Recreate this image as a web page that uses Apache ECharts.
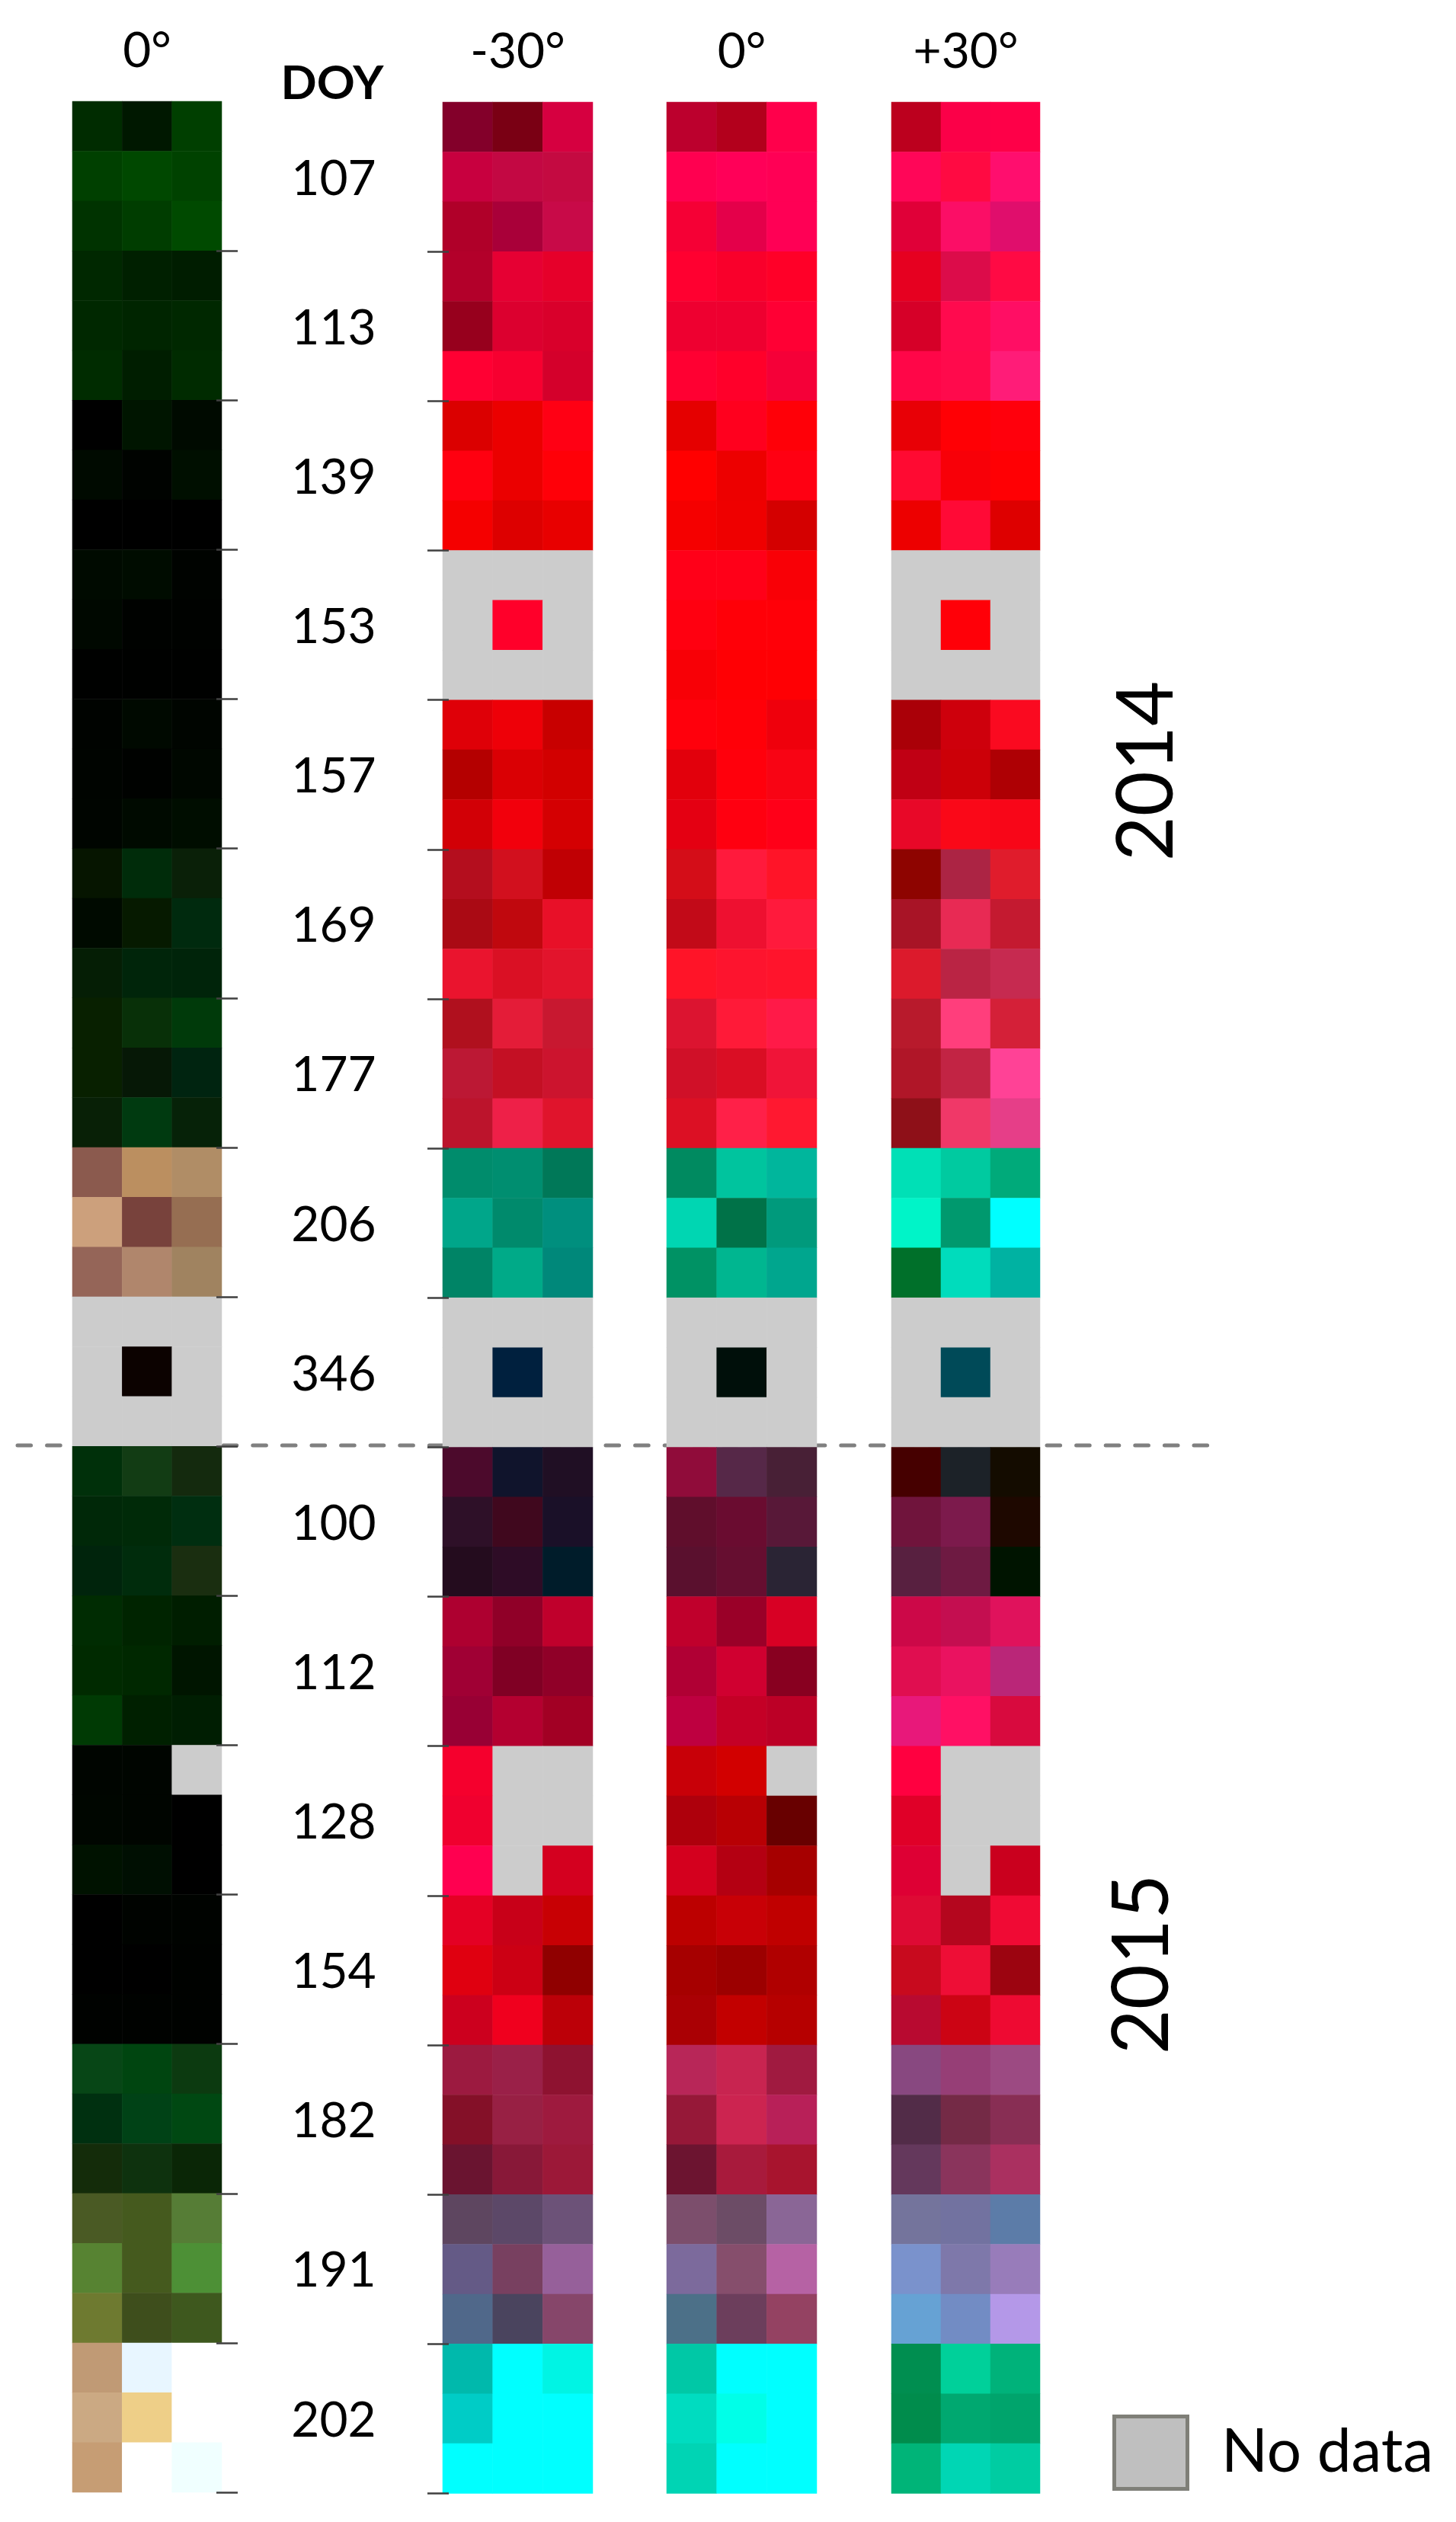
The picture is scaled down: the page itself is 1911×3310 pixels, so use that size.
<!DOCTYPE html>
<html><head><meta charset="utf-8">
<style>html,body{margin:0;padding:0;background:#fff}#c{width:1911px;height:3310px}</style>
<script src="https://cdn.jsdelivr.net/npm/echarts@6/dist/echarts.min.js"></script>
</head><body><div id="c"></div>
<script>
const NO = '#cccccc';
const doyLabels = ['107','113','139','153','157','169','177','206','346','100','112','128','154','182','191','202'];
const panelTitles = ['0°','-30°','0°','+30°'];
const yearLabels = ['2014','2015'];
const legendLabel = 'No data';

const greenPanel = [
 ['#002c00','#001800','#003f00'],['#004000','#004800','#004200'],['#003300','#003d00','#004a00'],
 ['#002800','#002000','#001d00'],['#002800','#002500','#002800'],['#002c00','#001e00','#002b00'],
 ['#000000','#001500','#000a00'],['#000a00','#000300','#000f00'],['#000000','#000000','#000000'],
 ['#000a00','#000c00','#000300'],['#000800','#000200','#000200'],['#000100','#000100','#000100'],
 ['#000300','#000900','#000500'],['#000400','#000200','#000700'],['#000500','#000a00','#000d00'],
 ['#061500','#002c0a','#0a2008'],['#000a00','#061a00','#002a0e'],['#051e05','#00250a','#00240a'],
 ['#082000','#083008','#003a0a'],['#082000','#061806','#002410'],['#082006','#003a10','#062208'],
 ['#8b5a4e','#bb8f60','#b08d66'],['#cca07c','#78423c','#966e52'],['#956558','#b0866c','#a08360'],
 [NO,NO,NO],[NO,'#0c0200',NO],[NO,NO,NO],
 ['#00300a','#123c14','#142a0e'],['#002808','#002a08','#002e10'],['#00240c','#002c0c','#1a2e10'],
 ['#002c02','#002400','#001e00'],['#002a00','#002800','#001500'],['#003a04','#002000','#001e02'],
 ['#000500','#000500',NO],['#000600','#000500','#000000'],['#001200','#000f02','#000000'],
 ['#000000','#000300','#000300'],['#000000','#000000','#000200'],['#000200','#000200','#000200'],
 ['#074616','#004510','#0c3a10'],['#003010','#004216','#004812'],['#142c0a','#0e320e','#0a2606'],
 ['#4a5a24','#455a1e','#567d36'],['#578332','#455a1e','#4d9036'],['#6e7a30','#3e4e1c','#3e581e'],
 ['#c09a75','#e8f6ff','#ffffff'],['#cba983','#eecf88','#ffffff'],['#c69d74','#ffffff','#f0ffff']
];
const minus30Panel = [
 ['#83002a','#7a0014','#d60040'],['#c8003f','#c30843','#c40a41'],['#b00029','#a90039','#c80a48'],
 ['#b3002a','#e60033','#e6002a'],['#97001d','#dc002f','#d9002b'],['#ff0033','#f70030','#d4002b'],
 ['#db0000','#eb0000','#ff0014'],['#ff0010','#eb0000','#ff0008'],['#f50000','#dd0000','#e80000'],
 [NO,NO,NO],[NO,'#ff002a',NO],[NO,NO,NO],
 ['#df0008','#ee0008','#c80000'],['#b40000','#da0004','#d20000'],['#d20006','#f2000c','#d40002'],
 ['#b40e1e','#d2101e','#c00004'],['#aa0a14','#c0080e','#e81028'],['#ea142e','#da1024','#e2142c'],
 ['#b0101e','#e41c38','#c81830'],['#bc1834','#c41024','#cc142e'],['#bc142c','#ee2048','#e0142c'],
 ['#008c6c','#008e70','#007858'],['#00a68a','#008a6c','#008f7e'],['#008466','#00aa88','#00887a'],
 [NO,NO,NO],[NO,'#00203e',NO],[NO,NO,NO],
 ['#4c0a2c','#10142c','#200f24'],['#2e1028','#40081e','#1a1028'],['#240c1e','#2e0c26','#001c2a'],
 ['#ae0030','#900028','#c0002c'],['#a00034','#800024','#900028'],['#980034','#b40030','#a20024'],
 ['#f5002d',NO,NO],['#f0002f',NO,NO],['#ff0050',NO,'#d4001f'],
 ['#e40024','#c80018','#c80004'],['#e00010','#cc0014','#900000'],['#cc001e','#f0001e','#bc0008'],
 ['#9c1a40','#9a2048','#8e1230'],['#841028','#982044','#9e1a3e'],['#6a1430','#881838','#9c1838'],
 ['#5e4660','#5c4868','#6c5278'],['#645a86','#784060','#96609a'],['#50688a','#4a445e','#86466a'],
 ['#00b9ac','#00ffff','#00f4e4'],['#00ccc6','#00ffff','#00ffff'],['#00ffff','#00ffff','#00ffff']
];
const zeroPanel = [
 ['#bc002d','#b3001c','#ff004b'],['#ff0050','#ff0058','#ff0055'],['#f50035','#e4004a','#ff0055'],
 ['#ff0030','#f9002b','#ff0028'],['#ee0030','#ee0030','#ff0034'],['#ff0032','#ff002a','#f50038'],
 ['#e50000','#ff001e','#ff0008'],['#ff0000','#ed0000','#ff0012'],['#f50000','#ef0000','#d40000'],
 ['#ff0018','#ff0018','#f90006'],['#ff0010','#ff0008','#ff0008'],['#f80006','#ff0004','#ff0004'],
 ['#ff000c','#ff0008','#ef000c'],['#e2000c','#ff000c','#f80414'],['#e40012','#ff0010','#ff0018'],
 ['#d40d18','#ff1a3c','#ff1428'],['#c20a18','#ee1030','#ff1a3c'],['#ff1428','#fd142e','#ff142c'],
 ['#dc1430','#ff1a38','#ff1a48'],['#d01028','#da0e24','#f01438'],['#dc1024','#ff2048','#ff1830'],
 ['#008a60','#00c49e','#00b69c'],['#00d6b2','#007248','#009a7c'],['#009264','#00b690','#00a68e'],
 [NO,NO,NO],[NO,'#000f0a',NO],[NO,NO,NO],
 ['#900c3a','#562848','#482036'],['#600e2c','#6a0c30','#581838'],['#5a102e','#660e30','#2a2434'],
 ['#c0002c','#9a0028','#d80024'],['#b00034','#d00030','#880020'],['#be0040','#c40026','#bc0026'],
 ['#c80008','#d20000',NO],['#ae000c','#b80004','#680000'],['#d4001e','#b40012','#a60000'],
 ['#bc0000','#c80006','#c00000'],['#a60000','#9c0000','#b00000'],['#aa0004','#c20000','#b60000'],
 ['#b82658','#c82450','#a01a40'],['#961838','#cc2450','#b82058'],['#6c1430','#a81a3c','#a8142e'],
 ['#7c4e6c','#6c4c66','#8a6696'],['#7c6a9c','#864e6c','#b662a4'],['#4c7088','#6c3e5c','#944262'],
 ['#00c8a6','#00ffff','#00ffff'],['#00dcc0','#00ffe8','#00ffff'],['#00d4b4','#00ffff','#00ffff']
];
const plus30Panel = [
 ['#bc001e','#fb0048','#fe0048'],['#ff0658','#ff0a42','#ff0e6e'],['#e00038','#fb0e66','#e00e6c'],
 ['#e60020','#dc0c4a','#ff0a44'],['#d60028','#ff0a4e','#ff0e64'],['#ff0648','#ff0a4c','#ff1c78'],
 ['#e80006','#ff0005','#ff000c'],['#ff0a32','#f80008','#ff0004'],['#ed0000','#ff0a36','#de0000'],
 [NO,NO,NO],[NO,'#ff0008',NO],[NO,NO,NO],
 ['#aa0008','#ce000c','#fa0a20'],['#c00014','#cc0008','#ae0004'],['#e80828','#fa0818','#f80618'],
 ['#8e0400','#ac2444','#e01c2c'],['#a81426','#e82a54','#c41a30'],['#dc1a2c','#ba2444','#c62a50'],
 ['#b81a2c','#ff3e7c','#d42038'],['#b01628','#c22444','#ff4296'],['#8e1018','#f03868','#e63e88'],
 ['#00e0b6','#00caa0','#00aa7a'],['#00f4c8','#00996e','#00ffff'],['#00702a','#00dcbc','#00b2a2'],
 [NO,NO,NO],[NO,'#004a58',NO],[NO,NO,NO],
 ['#460000','#1c2228','#140c00'],['#70143c','#7c1a4c','#1e0800'],['#582040','#6e1a42','#001400'],
 ['#cc0848','#c40e50','#e0125c'],['#e00e50','#ea1260','#ba2678'],['#e8187a','#ff1064','#d80a3e'],
 ['#ff0040',NO,NO],['#e00028',NO,NO],['#de0034',NO,'#ca001e'],
 ['#de0a34','#b4061e','#f00a34'],['#c80a1e','#ee0e36','#9c0410'],['#b80a30','#cc0414','#ee0a32'],
 ['#884880','#963e76','#9c4a82'],['#522c48','#742a46','#882e54'],['#64385c','#8a345c','#aa3060'],
 ['#74749c','#7272a0','#5c7ca8'],['#7a92cc','#7e78aa','#987cba'],['#66a2d4','#728cc4','#b498e8'],
 ['#008e50','#00d09a','#00b27a'],['#008c4c','#00a870','#00a46c'],['#00b478','#00d6b4','#00cca2']
];

const panels = [greenPanel, minus30Panel, zeroPanel, plus30Panel];
const FONT = 'Lato';
const gridBoxes = [
  {left:95, top:133, width:196, height:3138},
  {left:581, top:134, width:197, height:3138.5},
  {left:875, top:134, width:197, height:3138.5},
  {left:1170, top:134, width:195, height:3138.5}
];
const rowCats = doyLabels.flatMap(d => [d, d, d]);
const colCats = ['W','C','E'];

const yAxes = panels.map((_, i) => {
  const base = {gridIndex:i, type:'category', data:rowCats, inverse:true, z:6,
    axisLine:{show:false}, splitLine:{show:false}};
  const tick = {show:true, length:28, interval:(idx)=>idx>0 && idx%3===0, inside:false,
    lineStyle:{color:'#404040', width:2.5}};
  if (i===0) return Object.assign(base, {position:'right', offset:-7, axisTick:tick,
    axisLabel:{show:true, interval:(idx)=>idx%3===1, margin:154, align:'center',
      formatter:'{d|{value}}',
      rich:{d:{padding:[8,0,0,0], fontFamily:FONT, fontSize:64, color:'#000'}},
      fontFamily:FONT, fontSize:64, color:'#000', hideOverlap:false}});
  if (i===1) return Object.assign(base, {position:'left', offset:-8, axisTick:tick, axisLabel:{show:false}});
  return Object.assign(base, {show:false});
});
const xAxes = panels.map((_, i) => ({gridIndex:i, type:'category', data:colCats, position:'top',
  axisLine:{show:false}, axisTick:{show:false}, axisLabel:{show:false}, splitLine:{show:false},
  name:panelTitles[i], nameLocation:'middle', nameGap:66,
  nameTextStyle:{fontFamily:FONT, fontSize:64, color:'#000', verticalAlign:'middle'}}));
const series = panels.map((rows, i) => ({
  type:'heatmap', name:'panel'+i, xAxisIndex:i, yAxisIndex:i, z:2, animation:false,
  progressive:0, emphasis:{disabled:true},
  data: rows.flatMap((r, y) => r.map((color, x) => ({value:[x, y, 1], itemStyle:{color}})))
}));

const chart = echarts.init(document.getElementById('c'), null, {renderer:'canvas', width:1911, height:3310});
chart.setOption({
  animation:false, backgroundColor:'#ffffff', tooltip:{show:false},
  grid:gridBoxes, xAxis:xAxes, yAxis:yAxes, series,
  graphic:[
    {type:'line', z:0, silent:true, shape:{x1:23, y1:1897, x2:1595, y2:1897},
      style:{stroke:'#808080', lineWidth:5, lineCap:'round', lineDash:[17.6,21]}},
    {type:'text', z:10, x:436, y:110, style:{text:'DOY', fontFamily:FONT, fontWeight:'bold', fontSize:62, fill:'#000', align:'center', verticalAlign:'middle'}},
    {type:'text', z:10, x:1506, y:1012, rotation:Math.PI/2, style:{text:yearLabels[0], fontFamily:FONT, fontSize:102, fill:'#000', align:'center', verticalAlign:'middle', textShadowColor:'#808080', textShadowOffsetY:-5, textShadowBlur:0}},
    {type:'text', z:10, x:1500, y:2578, rotation:Math.PI/2, style:{text:yearLabels[1], fontFamily:FONT, fontSize:102, fill:'#000', align:'center', verticalAlign:'middle', textShadowColor:'#808080', textShadowOffsetY:-5, textShadowBlur:0}},
    {type:'rect', z:10, shape:{x:1462.5, y:3171.5, width:96, height:95}, style:{fill:'#bfbfbf', stroke:'#7f7f78', lineWidth:5}},
    {type:'text', z:10, x:1603, y:3218, style:{text:legendLabel, fontFamily:FONT, fontSize:80, fill:'#000', align:'left', verticalAlign:'middle'}}
  ]
});
</script></body></html>
